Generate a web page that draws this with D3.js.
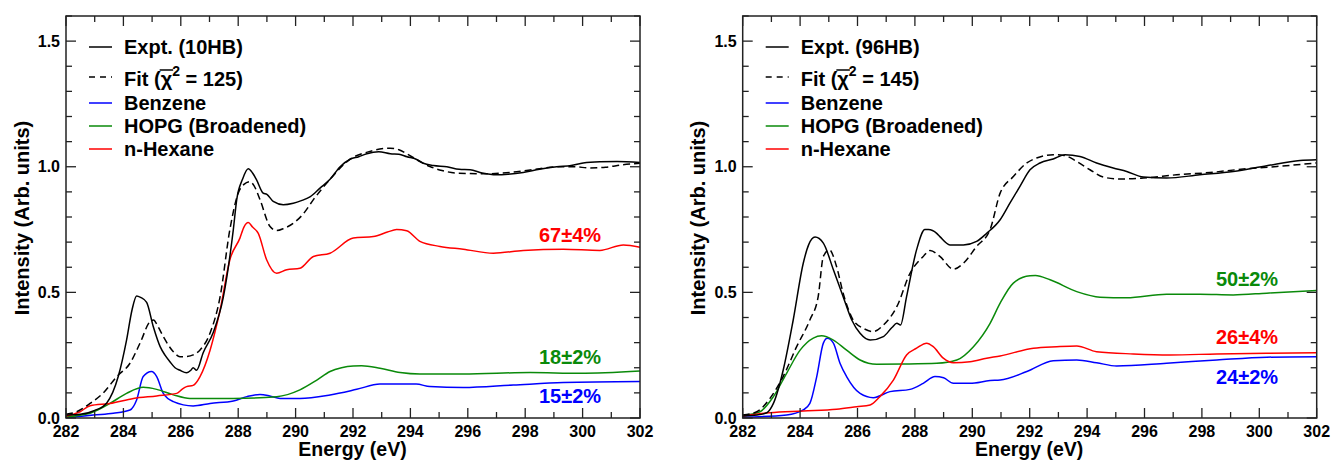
<!DOCTYPE html>
<html>
<head>
<meta charset="utf-8">
<script src="https://cdn.jsdelivr.net/npm/d3@7"></script>
<style>
  html, body { margin: 0; padding: 0; background: #fff; }
  svg { display: block; font-family: "Liberation Sans", Arial, Helvetica, sans-serif; font-weight: bold; }
</style>
</head>
<body>
<svg id="chart" width="1331" height="462"></svg>
<script>
// ---------------- DATA ----------------
const xMajorTicks = [282, 284, 286, 288, 290, 292, 294, 296, 298, 300, 302];
const yMajorTicks = [0.0, 0.5, 1.0, 1.5];
const yTickLabels = ["0.0", "0.5", "1.0", "1.5"];
const xTitle = "Energy (eV)";
const yTitle = "Intensity (Arb. units)";
const seriesNames = ["Benzene", "HOPG (Broadened)", "n-Hexane"];
const seriesColors = ["#0000ff", "#0a8a0a", "#ff0000"];

// Left panel (10HB)
const leftExptLabel = "Expt. (10HB)";
const leftChi2 = "125";
const leftExpt = [[282,0.012],[282.5,0.015],[283.0,0.03],[283.42,0.06],[283.82,0.165],[284.11,0.31],[284.3,0.43],[284.46,0.486],[284.6,0.48],[284.81,0.46],[285.04,0.364],[285.28,0.284],[285.45,0.25],[285.62,0.224],[285.8,0.2],[285.97,0.19],[286.2,0.18],[286.35,0.19],[286.43,0.2],[286.55,0.19],[286.78,0.26],[287.13,0.34],[287.48,0.48],[287.83,0.75],[287.95,0.87],[288.15,0.95],[288.35,0.992],[288.5,0.975],[288.64,0.948],[288.87,0.895],[289.0,0.89],[289.22,0.862],[289.57,0.849],[289.92,0.855],[290.2,0.865],[290.5,0.88],[290.85,0.915],[291.2,0.95],[291.55,1.0],[291.9,1.03],[292.2,1.04],[292.48,1.052],[292.9,1.06],[293.3,1.052],[293.6,1.05],[293.88,1.04],[294.2,1.03],[294.45,1.014],[294.8,1.005],[295.27,1.0],[295.7,0.99],[296.08,0.988],[296.5,0.975],[297.0,0.968],[297.4,0.97],[297.93,0.977],[298.5,0.99],[299.1,1.0],[299.6,1.005],[300.02,1.015],[300.6,1.02],[301.2,1.021],[302,1.017]];
const leftFit = [[282,0.015],[282.37,0.025],[282.84,0.058],[283.3,0.1],[283.77,0.165],[284.23,0.218],[284.58,0.298],[284.93,0.384],[285.05,0.39],[285.2,0.365],[285.39,0.324],[285.74,0.264],[285.97,0.244],[286.2,0.245],[286.43,0.251],[286.67,0.271],[287.02,0.338],[287.37,0.483],[287.71,0.75],[288.0,0.895],[288.2,0.93],[288.41,0.941],[288.55,0.925],[288.76,0.869],[289.11,0.762],[289.34,0.746],[289.6,0.755],[289.92,0.775],[290.25,0.81],[290.62,0.869],[291.2,0.95],[291.9,1.03],[292.59,1.061],[293.29,1.074],[293.6,1.068],[293.9,1.05],[294.22,1.028],[294.68,1.001],[295.1,0.985],[295.61,0.975],[296.66,0.972],[297.7,0.98],[298.5,0.992],[299.1,1.0],[299.7,1.0],[300.26,0.995],[300.8,0.998],[301.4,1.008],[302,1.014]];
const leftBenzene = [[282,0.0],[282.95,0.012],[283.65,0.019],[284.23,0.032],[284.46,0.072],[284.69,0.165],[284.98,0.185],[285.16,0.165],[285.39,0.098],[285.74,0.065],[286.43,0.048],[287.02,0.058],[287.83,0.068],[288.3,0.085],[288.76,0.094],[289.1,0.088],[289.46,0.078],[290.15,0.078],[291.2,0.092],[292.13,0.114],[292.94,0.135],[294.2,0.135],[294.68,0.125],[295.84,0.121],[297.58,0.131],[299.33,0.141],[302,0.145]];
const leftHOPG = [[282,0.005],[282.84,0.019],[283.53,0.058],[284.11,0.098],[284.69,0.122],[285.16,0.114],[285.74,0.092],[286.32,0.078],[287.83,0.078],[289.34,0.085],[290.15,0.112],[290.74,0.151],[291.2,0.185],[291.6,0.2],[292.01,0.207],[292.3,0.208],[292.94,0.198],[293.64,0.181],[294.33,0.175],[295.84,0.175],[298.17,0.181],[299.91,0.178],[302,0.187]];
const leftHexane = [[282,0.008],[282.49,0.025],[282.84,0.049],[283.53,0.058],[284.35,0.078],[285.16,0.088],[285.86,0.098],[286.05,0.115],[286.2,0.125],[286.43,0.13],[286.67,0.165],[287.02,0.27],[287.37,0.43],[287.71,0.63],[288.06,0.716],[288.2,0.76],[288.35,0.778],[288.5,0.76],[288.7,0.735],[288.99,0.63],[289.34,0.576],[289.69,0.59],[290.15,0.596],[290.62,0.643],[291.2,0.656],[292.01,0.716],[292.71,0.722],[293.2,0.74],[293.52,0.75],[293.87,0.745],[294.33,0.703],[295.03,0.683],[295.84,0.672],[296.89,0.656],[297.93,0.667],[299.33,0.672],[300.6,0.667],[301.42,0.689],[302,0.68]];
const leftPercents = ["15±2%", "18±2%", "67±4%"];

// Right panel (96HB)
const rightExptLabel = "Expt. (96HB)";
const rightChi2 = "145";
const rightExpt = [[282,0.008],[282.5,0.012],[282.84,0.021],[283.07,0.058],[283.41,0.19],[283.76,0.39],[284.11,0.616],[284.3,0.69],[284.52,0.72],[284.81,0.696],[285.16,0.59],[285.5,0.483],[285.8,0.39],[286.09,0.337],[286.44,0.31],[286.9,0.324],[287.2,0.36],[287.37,0.377],[287.5,0.37],[287.71,0.483],[288.06,0.67],[288.35,0.75],[288.47,0.75],[288.76,0.735],[288.87,0.722],[289.22,0.689],[289.69,0.689],[290.15,0.703],[290.5,0.735],[290.97,0.789],[291.31,0.855],[291.66,0.922],[292.01,0.988],[292.36,1.015],[292.82,1.031],[293.23,1.048],[293.75,1.041],[294.33,1.015],[294.91,0.995],[295.38,0.981],[295.96,0.959],[296.77,0.955],[297.93,0.968],[299.09,0.981],[300.26,1.004],[301.42,1.025],[302,1.028]];
const rightFit = [[282,0.012],[282.49,0.025],[282.95,0.078],[283.41,0.165],[283.88,0.284],[284.34,0.39],[284.63,0.483],[284.81,0.643],[285.02,0.67],[285.27,0.603],[285.5,0.497],[285.85,0.39],[286.2,0.357],[286.55,0.344],[286.9,0.37],[287.37,0.443],[287.83,0.576],[288.29,0.643],[288.53,0.667],[288.87,0.643],[289.34,0.592],[289.69,0.616],[290.15,0.683],[290.62,0.75],[290.97,0.895],[291.43,0.961],[291.9,1.015],[292.24,1.035],[292.82,1.048],[293.2,1.045],[293.64,1.021],[294.1,0.988],[294.56,0.959],[295.15,0.951],[295.96,0.955],[297.12,0.968],[298.28,0.977],[299.44,0.991],[300.61,1.001],[302,1.015]];
const rightBenzene = [[282,0.003],[283.53,0.012],[284.11,0.032],[284.34,0.058],[284.58,0.165],[284.81,0.298],[284.95,0.317],[285.16,0.298],[285.39,0.218],[285.62,0.165],[286.09,0.098],[286.55,0.081],[287.13,0.105],[287.83,0.114],[288.29,0.138],[288.7,0.165],[289.0,0.16],[289.34,0.138],[289.92,0.138],[290.62,0.149],[290.97,0.151],[291.9,0.185],[292.82,0.228],[293.64,0.231],[294.33,0.22],[295.03,0.207],[296.77,0.218],[298.52,0.231],[300.26,0.242],[302,0.244]];
const rightHOPG = [[282,0.01],[282.6,0.025],[283.07,0.085],[283.53,0.178],[284.0,0.27],[284.46,0.318],[284.75,0.327],[285.16,0.31],[285.62,0.27],[286.09,0.231],[286.67,0.214],[287.6,0.215],[288.76,0.218],[289.46,0.231],[290.04,0.284],[290.62,0.377],[290.97,0.457],[291.43,0.537],[292.01,0.566],[292.2,0.567],[292.71,0.55],[293.64,0.503],[294.45,0.481],[295.38,0.479],[296.77,0.493],[297.93,0.493],[299.09,0.49],[300.26,0.497],[302,0.507]];
const rightHexane = [[282,0.008],[282.95,0.021],[284.11,0.028],[285.27,0.035],[285.97,0.045],[286.44,0.052],[286.78,0.085],[287.25,0.151],[287.71,0.251],[288.06,0.278],[288.41,0.298],[288.64,0.284],[288.99,0.238],[289.34,0.22],[289.92,0.224],[290.5,0.238],[290.97,0.247],[292.13,0.278],[292.94,0.284],[293.64,0.287],[294.33,0.264],[295.61,0.255],[296.89,0.251],[298.52,0.255],[300.26,0.258],[302,0.26]];
const rightPercents = ["24±2%", "50±2%", "26±4%"];

// ---------------- LAYOUT ----------------
const svg = d3.select("#chart");
const TOP = 16, BOTTOM = 418, PW = 574;
const panels = [
  { left: 66, expt: leftExpt, fit: leftFit, comps: [leftBenzene, leftHOPG, leftHexane],
    exptLabel: leftExptLabel, chi2: leftChi2, percents: leftPercents,
    pctPos: [[298.48, 0.088], [298.48, 0.243], [298.48, 0.729]] },
  { left: 742.7, expt: rightExpt, fit: rightFit, comps: [rightBenzene, rightHOPG, rightHexane],
    exptLabel: rightExptLabel, chi2: rightChi2, percents: rightPercents,
    pctPos: [[298.49, 0.163], [298.49, 0.554], [298.49, 0.323]] }
];
const legendRowY = [47, 77, 103, 126, 149];

panels.forEach(p => {
  const x = d3.scaleLinear().domain([282, 302]).range([p.left, p.left + PW]);
  const y = d3.scaleLinear().domain([0, 1.6]).range([BOTTOM, TOP]);
  const g = svg.append("g");

  const line = d3.line().x(d => x(d[0])).y(d => y(d[1])).curve(d3.curveMonotoneX);

  const clipId = "clip" + Math.round(p.left);
  svg.append("clipPath").attr("id", clipId).append("rect")
    .attr("x", p.left).attr("y", TOP).attr("width", PW).attr("height", BOTTOM - TOP);
  const plot = g.append("g").attr("clip-path", `url(#${clipId})`);

  p.comps.forEach((c, i) => {
    plot.append("path").datum(c).attr("d", line)
      .attr("fill", "none").attr("stroke", seriesColors[i]).attr("stroke-width", 1.5);
  });
  plot.append("path").datum(p.fit).attr("d", line)
    .attr("fill", "none").attr("stroke", "#000").attr("stroke-width", 1.5)
    .attr("stroke-dasharray", "7,4");
  plot.append("path").datum(p.expt).attr("d", line)
    .attr("fill", "none").attr("stroke", "#000").attr("stroke-width", 1.5);

  // ticks, inward on all four sides
  const xMinor = d3.range(282, 303, 1);
  const yMinor = d3.range(0, 1.601, 0.1);
  const axG = g.append("g").attr("stroke", "#222").attr("stroke-width", 1.3);
  xMinor.forEach(v => {
    const major = xMajorTicks.includes(v);
    const L = major ? 10 : 6;
    axG.append("line").attr("x1", x(v)).attr("x2", x(v)).attr("y1", BOTTOM).attr("y2", BOTTOM - L);
    axG.append("line").attr("x1", x(v)).attr("x2", x(v)).attr("y1", TOP).attr("y2", TOP + L);
  });
  yMinor.forEach(v => {
    const major = yMajorTicks.some(t => Math.abs(t - v) < 1e-6);
    const L = major ? 10 : 6;
    axG.append("line").attr("x1", p.left).attr("x2", p.left + L).attr("y1", y(v)).attr("y2", y(v));
    axG.append("line").attr("x1", p.left + PW).attr("x2", p.left + PW - L).attr("y1", y(v)).attr("y2", y(v));
  });
  g.append("rect").attr("x", p.left).attr("y", TOP).attr("width", PW).attr("height", BOTTOM - TOP)
    .attr("fill", "none").attr("stroke", "#222").attr("stroke-width", 1.5);

  xMajorTicks.forEach(v => {
    g.append("text").attr("x", x(v)).attr("y", BOTTOM + 19).attr("text-anchor", "middle")
      .attr("font-size", 16).text(v);
  });
  yMajorTicks.forEach((v, i) => {
    g.append("text").attr("x", p.left - 6).attr("y", y(v)).attr("dy", "0.35em")
      .attr("text-anchor", "end").attr("font-size", 16).text(yTickLabels[i]);
  });

  g.append("text").attr("x", p.left + PW / 2 - 0.5).attr("y", 455.5).attr("text-anchor", "middle")
    .attr("font-size", 19.5).text(xTitle);
  g.append("text").attr("transform", `translate(${p.left - 37.5},${(TOP + BOTTOM) / 2 + 1}) rotate(-90)`)
    .attr("text-anchor", "middle").attr("font-size", 20).text(yTitle);

  // legend
  const lx1 = p.left + 23, lx2 = p.left + 46, tx = p.left + 58;
  const leg = g.append("g");
  const rows = [
    { color: "#000", dash: null },
    { color: "#000", dash: "6,5" },
    { color: seriesColors[0], dash: null },
    { color: seriesColors[1], dash: null },
    { color: seriesColors[2], dash: null }
  ];
  rows.forEach((r, i) => {
    const yy = legendRowY[i];
    leg.append("line").attr("x1", lx1).attr("x2", lx2).attr("y1", yy).attr("y2", yy)
      .attr("stroke", r.color).attr("stroke-width", 1.5)
      .attr("stroke-dasharray", r.dash);
  });
  const textRow = (i) => leg.append("text").attr("x", tx).attr("y", legendRowY[i] + 7).attr("font-size", 20);
  textRow(0).text(p.exptLabel);
  const fitT = textRow(1).attr("y", legendRowY[1] + 9);
  fitT.append("tspan").text("Fit (");
  fitT.append("tspan").text("χ");
  fitT.append("tspan").attr("dy", -10).attr("font-size", 14).text("2");
  fitT.append("tspan").attr("dy", 10).text(" = " + p.chi2 + ")");
  textRow(2).text(seriesNames[0]);
  textRow(3).text(seriesNames[1]);
  textRow(4).text(seriesNames[2]);
  try {
    const node = fitT.node();
    const ext = node.getExtentOfChar(5);
    const baseY = legendRowY[1] + 9;
    leg.append("line").attr("x1", ext.x - 1).attr("x2", ext.x + ext.width + 1)
      .attr("y1", baseY - 16).attr("y2", baseY - 16)
      .attr("stroke", "#000").attr("stroke-width", 1.5);
  } catch (e) {}

  p.percents.forEach((t, i) => {
    g.append("text").attr("x", x(p.pctPos[i][0])).attr("y", y(p.pctPos[i][1])).attr("dy", "0.35em")
      .attr("font-size", 20).attr("fill", seriesColors[i]).text(t);
  });
});
</script>
</body>
</html>
